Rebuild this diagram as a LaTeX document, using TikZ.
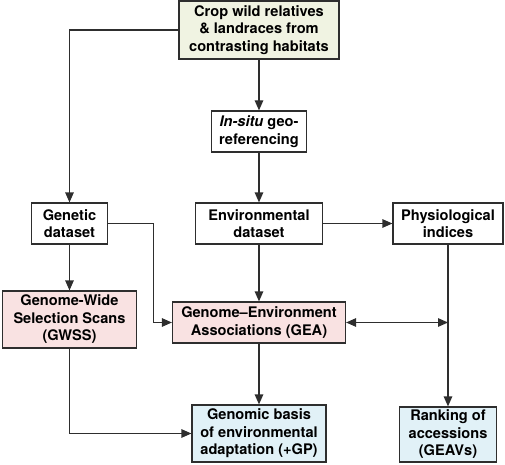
\documentclass[tikz,border=0pt]{standalone}
\usepackage{fontspec}
\setmainfont{TeX Gyre Heros}
\usetikzlibrary{arrows.meta,positioning}
\definecolor{Sage}{HTML}{F0F3E2}
\definecolor{Blush}{HTML}{F9E2E2}
\definecolor{Sky}{HTML}{E1F1F7}
\definecolor{Ink}{HTML}{2E2E2E}

\begin{document}
\begin{tikzpicture}[x=1pt,y=1pt,font=\fontsize{14.6}{17.5}\selectfont\bfseries,>={Triangle[length=10pt,width=8.5pt]},
  box/.style={draw=Ink,line width=1.2pt,align=center,inner sep=0pt,fill=white},
  flow/.style={->,draw=Ink,line width=1.2pt}]
  \useasboundingbox (0,0) rectangle (505,464);
  % boxes
  \node[box,fill=Sage,minimum width=160pt,minimum height=58pt] (wild) at (259,434) {Crop wild relatives\\\& landraces from\\contrasting habitats};
  \node[box,minimum width=95pt,minimum height=41pt] (situ) at (259,332.5) {\textit{In-situ} geo-\\referencing};
  \node[box,minimum width=76pt,minimum height=41pt] (gen) at (69.5,240.5) {Genetic\\dataset};
  \node[box,minimum width=127pt,minimum height=41pt] (env) at (259,240.5) {Environmental\\dataset};
  \node[box,minimum width=110pt,minimum height=41pt] (phys) at (448,240.5) {Physiological\\indices};
  \node[box,fill=Blush,minimum width=134pt,minimum height=57pt] (gwss) at (69.5,144.5) {Genome-Wide\\Selection Scans\\(GWSS)};
  \node[box,fill=Blush,minimum width=173pt,minimum height=41pt] (gea) at (259,141.5) {Genome--Environment\\Associations (GEA)};
  \node[box,fill=Sky,minimum width=134pt,minimum height=57pt] (basis) at (259,30.5) {Genomic basis\\of environmental\\adaptation (+GP)};
  \node[box,fill=Sky,minimum width=97pt,minimum height=55pt] (rank) at (448,29.5) {Ranking of\\accessions\\(GEAVs)};
  % connectors
  \draw[flow] (wild.west) -| (gen.north);
  \draw[flow] (wild) -- (situ);
  \draw[flow] (situ) -- (env);
  \draw[flow] (gen) -- (gwss);
  \draw[flow] (gen.east) -- ++(45,0) |- (gea.west);
  \draw[flow] (env) -- (gea);
  \draw[flow] (env) -- (phys);
  \draw[flow] (phys) -- (rank);
  \coordinate (tap) at (phys.south |- gea.east);
  \draw[flow,<->] (gea.east) -- (tap);
  \draw[flow] (gea) -- (basis);
  \draw[flow] (gwss.south) |- (basis.west);
\end{tikzpicture}
\end{document}
